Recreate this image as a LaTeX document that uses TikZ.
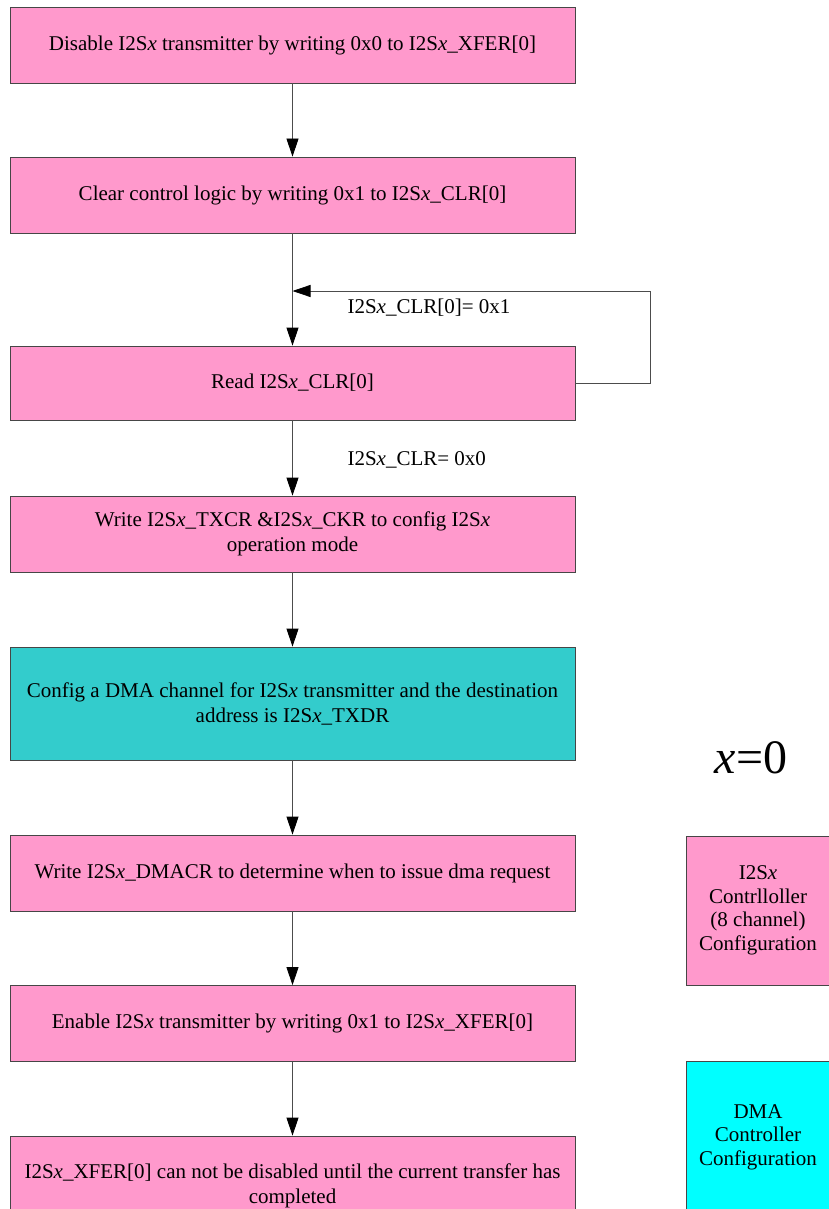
\documentclass[tikz,border=0pt]{standalone}
\usepackage{fontspec}
\setmainfont{Liberation Serif}
\usetikzlibrary{arrows.meta,positioning,calc}

\definecolor{stepPink}{RGB}{255,153,204}
\definecolor{stepTeal}{RGB}{51,204,204}
\definecolor{dmaCyan}{RGB}{0,255,255}
\definecolor{edgeGray}{RGB}{70,70,70}
\newcommand{\isx}{I2S\textit{x}}

\begin{document}
\begin{tikzpicture}[x=1pt,y=-1pt,
    stepbox/.style={draw=edgeGray, line width=0.8pt, fill=stepPink, minimum width=565pt, minimum height=76pt,
        align=center, inner sep=2pt, font=\fontsize{21}{25}\selectfont},
    legendbox/.style={draw=edgeGray, line width=0.8pt, minimum width=144pt, align=center,
        font=\fontsize{21}{23.5}\selectfont},
    flow/.style={draw=gray!60!black, line width=0.8pt, -{Triangle[length=18pt,width=12pt,black]}},
    cond/.style={anchor=west, font=\fontsize{21}{25}\selectfont}]
    \useasboundingbox (0,0) rectangle (829,1209);
    \clip (0,0) rectangle (829,1209);

    % main sequence
    \node[stepbox] (disable) at (292.5,45) {Disable \isx{} transmitter by writing 0x0 to \isx\_XFER[0]};
    \node[stepbox] (clear) at (292.5,195) {Clear control logic by writing 0x1 to \isx\_CLR[0]};
    \node[stepbox, minimum height=74pt] (readclr) at (292.5,383) {Read \isx\_CLR[0]};
    \node[stepbox] (txcr) at (292.5,534) {Write \isx\_TXCR \&\isx\_CKR to config \isx\\operation mode};
    \node[stepbox, fill=stepTeal, minimum height=113pt] (dmach) at (292.5,703.5) {Config a DMA channel for \isx{} transmitter and the destination\\address is \isx\_TXDR};
    \node[stepbox] (dmacr) at (292.5,873) {Write \isx\_DMACR to determine when to issue dma request};
    \node[stepbox] (enable) at (292.5,1023.5) {Enable \isx{} transmitter by writing 0x1 to \isx\_XFER[0]};
    \node[stepbox, minimum height=100pt] (done) at (292.5,1186) {\isx\_XFER[0] can not be disabled until the current transfer has\\completed};

    \coordinate (join) at (292.5,291);

    \draw[flow] (disable) -- (clear);
    \draw[flow] (clear) -- (readclr);
    \draw[flow] (readclr.east) -- ++(75,0) |- (join);
    \draw[flow] (readclr) -- (txcr);
    \draw[flow] (txcr) -- (dmach);
    \draw[flow] (dmach) -- (dmacr);
    \draw[flow] (dmacr) -- (enable);
    \draw[flow] (enable) -- (done);

    \node[cond] (busy) at (344,308) {\isx\_CLR[0]= 0x1};
    \node[cond] (idle) at (344,460) {\isx\_CLR= 0x0};

    % legend
    \node[font=\fontsize{48}{50}\selectfont] (xval) at (751,758) {\textit{x}=0};
    \node[legendbox, fill=stepPink, minimum height=149pt] (i2sleg) at (758,910.5) {\isx\\Contrlloller\\(8 channel)\\Configuration};
    \node[legendbox, fill=dmaCyan, minimum height=152pt] (dmaleg) at (758,1137) {DMA\\Controller\\Configuration};
\end{tikzpicture}
\end{document}
